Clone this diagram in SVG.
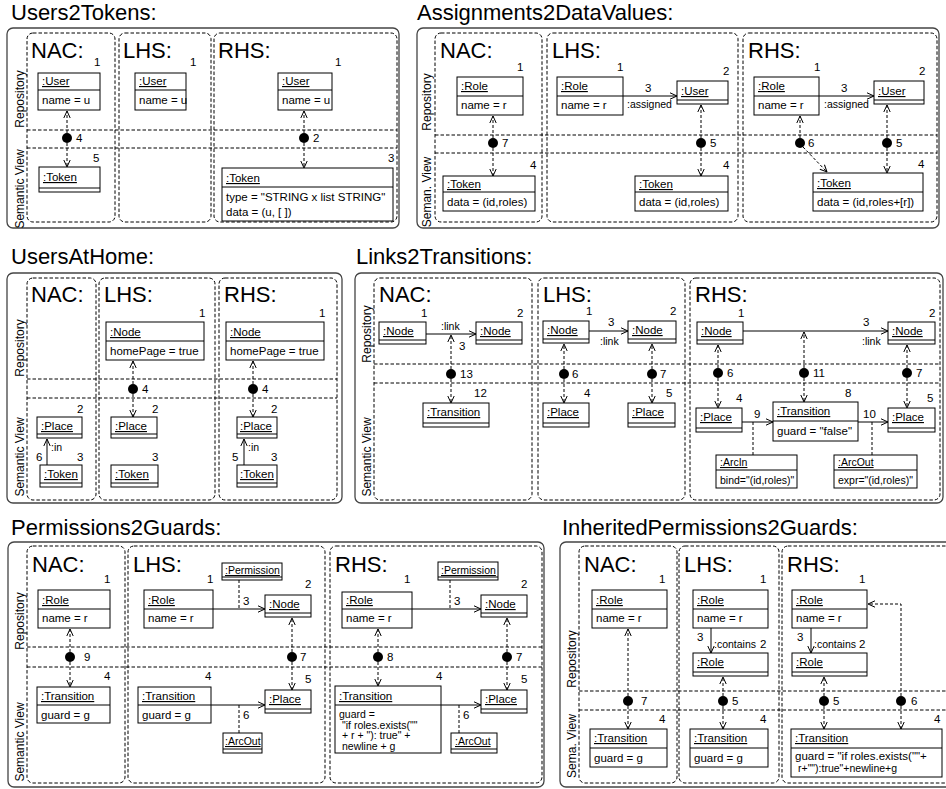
<svg xmlns="http://www.w3.org/2000/svg" width="946" height="789" viewBox="0 0 946 789">
<defs>
<style>
text{font-family:"Liberation Sans",Arial,Helvetica,sans-serif;font-size:11.5px;fill:#000}
.ttl{font-size:22px}
.sec{font-size:22px}
.side{font-size:12px;text-anchor:middle}
.u{text-decoration:underline}
.sm{font-size:10.5px}
.frame{fill:none;stroke:#444;stroke-width:1.3}
.sub{fill:none;stroke:#000;stroke-width:1;stroke-dasharray:3.5 2}
.hd{fill:none;stroke:#000;stroke-width:1;stroke-dasharray:3.5 2}
.box{fill:#fff;stroke:#000;stroke-width:1}
.ln{stroke:#000;stroke-width:1;fill:none}
.dc{stroke:#000;stroke-width:1;fill:none;stroke-dasharray:3 2;marker-end:url(#a)}
.dl{stroke:#000;stroke-width:1;fill:none;stroke-dasharray:3 2}
.sc{stroke:#000;stroke-width:1;fill:none;marker-end:url(#a)}
.dot{fill:#000}
</style>
<marker id="a" viewBox="0 0 8 8" refX="7.5" refY="4" markerWidth="8" markerHeight="8" markerUnits="userSpaceOnUse" orient="auto"><path d="M0.5,0.8 L7.5,4 L0.5,7.2" fill="none" stroke="#000" stroke-width="1" stroke-dasharray="none"/></marker>
</defs>
<rect width="946" height="789" fill="#fff"/>

<!-- ===== Panel 1: Users2Tokens ===== -->
<g id="users2tokens">
<text class="ttl" x="11" y="20">Users2Tokens:</text>
<rect class="frame" x="7" y="28" width="392" height="200" rx="6"/>
<rect class="sub" x="27" y="33" width="88" height="189" rx="6"/>
<rect class="sub" x="119" y="33" width="92" height="189" rx="6"/>
<rect class="sub" x="214" y="33" width="183" height="189" rx="6"/>
<path class="hd" d="M27,130H397M27,148H397"/>
<text class="side" transform="translate(24,99) rotate(-90)">Repository</text>
<text class="side" transform="translate(24,189) rotate(-90)">Semantic View</text>
<text class="sec" x="31" y="58">NAC:</text>
<text class="sec" x="123" y="58">LHS:</text>
<text class="sec" x="218" y="58">RHS:</text>
<g id="p1-nac-user"><rect class="box" x="38" y="73" width="62" height="37"/><line class="ln" x1="38" y1="90" x2="100" y2="90"/><text class="u" x="42" y="85">:User</text><text x="42" y="104">name = u</text><text x="94" y="66">1</text></g>
<g id="p1-nac-token"><rect class="box" x="39" y="167" width="61" height="25"/><line class="ln" x1="39" y1="188" x2="100" y2="188"/><text class="u" x="43" y="181">:Token</text><text x="93" y="162">5</text></g>
<g id="p1-lhs-user"><rect class="box" x="135" y="73" width="51" height="37"/><line class="ln" x1="135" y1="90" x2="186" y2="90"/><text class="u" x="139" y="85">:User</text><text x="139" y="104">name = u</text><text x="190" y="66">1</text></g>
<g id="p1-rhs-user"><rect class="box" x="278" y="73" width="54" height="37"/><line class="ln" x1="278" y1="90" x2="332" y2="90"/><text class="u" x="282" y="85">:User</text><text x="282" y="104">name = u</text><text x="335" y="66">1</text></g>
<g id="p1-rhs-token"><rect class="box" x="222" y="168" width="171" height="53"/><line class="ln" x1="222" y1="187" x2="393" y2="187"/><text class="u" x="226" y="182">:Token</text><text x="226" y="201">type = "STRING x list STRING"</text><text x="226" y="216">data = (u, [ ])</text><text x="388" y="162">3</text></g>
<g id="p1-corr4"><circle class="dot" cx="67" cy="138" r="5"/><text x="76" y="142">4</text></g>
<g id="p1-corr2"><circle class="dot" cx="304" cy="138" r="5"/><text x="313" y="142">2</text></g>
<g id="p1-edges">
<path class="dc" d="M67,133V111"/><path class="dc" d="M67,143V167"/>
<path class="dc" d="M304,133V111"/><path class="dc" d="M304,143V168"/>
</g>
</g>

<!-- ===== Panel 2: Assignments2DataValues ===== -->
<g id="assignments2datavalues">
<text class="ttl" x="417" y="20">Assignments2DataValues:</text>
<rect class="frame" x="417" y="28" width="522" height="200" rx="6"/>
<rect class="sub" x="435" y="33" width="107" height="189" rx="6"/>
<rect class="sub" x="547" y="33" width="191" height="189" rx="6"/>
<rect class="sub" x="743" y="33" width="194" height="189" rx="6"/>
<path class="hd" d="M435,135H937M435,153H937"/>
<text class="side" transform="translate(431,102) rotate(-90)">Repository</text>
<text class="side" transform="translate(431,192) rotate(-90)">Seman. View</text>
<text class="sec" x="440" y="58">NAC:</text>
<text class="sec" x="552" y="58">LHS:</text>
<text class="sec" x="748" y="58">RHS:</text>
<g id="p2-nac-role"><rect class="box" x="457" y="77" width="66" height="38"/><line class="ln" x1="457" y1="96" x2="523" y2="96"/><text class="u" x="461" y="90">:Role</text><text x="461" y="109">name = r</text><text x="517" y="71">1</text></g>
<g id="p2-nac-token"><rect class="box" x="443" y="176" width="92" height="35"/><line class="ln" x1="443" y1="192" x2="535" y2="192"/><text class="u" x="447" y="188">:Token</text><text x="447" y="206">data = (id,roles)</text><text x="530" y="169">4</text></g>
<g id="p2-lhs-role"><rect class="box" x="557" y="77" width="66" height="38"/><line class="ln" x1="557" y1="96" x2="623" y2="96"/><text class="u" x="561" y="90">:Role</text><text x="561" y="109">name = r</text><text x="617" y="71">1</text></g>
<g id="p2-lhs-user"><rect class="box" x="677" y="81" width="51" height="23"/><line class="ln" x1="677" y1="100" x2="728" y2="100"/><text class="u" x="681" y="95">:User</text><text x="723" y="75">2</text></g>
<g id="p2-lhs-token"><rect class="box" x="635" y="176" width="93" height="35"/><line class="ln" x1="635" y1="192" x2="728" y2="192"/><text class="u" x="639" y="188">:Token</text><text x="639" y="206">data = (id,roles)</text><text x="723" y="169">4</text></g>
<g id="p2-rhs-role"><rect class="box" x="754" y="77" width="65" height="38"/><line class="ln" x1="754" y1="96" x2="819" y2="96"/><text class="u" x="758" y="90">:Role</text><text x="758" y="109">name = r</text><text x="814" y="71">1</text></g>
<g id="p2-rhs-user"><rect class="box" x="874" y="81" width="50" height="23"/><line class="ln" x1="874" y1="100" x2="924" y2="100"/><text class="u" x="878" y="95">:User</text><text x="919" y="75">2</text></g>
<g id="p2-rhs-token"><rect class="box" x="813" y="173" width="110" height="38"/><line class="ln" x1="813" y1="192" x2="923" y2="192"/><text class="u" x="817" y="187">:Token</text><text x="817" y="206">data = (id,roles+[r])</text><text x="918" y="168">4</text></g>
<g id="p2-corr7"><circle class="dot" cx="493" cy="143" r="5"/><text x="502" y="147">7</text></g>
<g id="p2-corr5a"><circle class="dot" cx="701" cy="143" r="5"/><text x="710" y="147">5</text></g>
<g id="p2-corr6"><circle class="dot" cx="800" cy="143" r="5"/><text x="808" y="147">6</text></g>
<g id="p2-corr5b"><circle class="dot" cx="887" cy="143" r="5"/><text x="896" y="147">5</text></g>
<g id="p2-edges">
<path class="sc" d="M623,96H677"/><text x="645" y="92">3</text><text class="sm" x="627" y="108">:assigned</text>
<path class="sc" d="M819,96H874"/><text x="841" y="92">3</text><text class="sm" x="824" y="108">:assigned</text>
<path class="dc" d="M493,138V116"/><path class="dc" d="M493,148V176"/>
<path class="dc" d="M701,138V105"/><path class="dc" d="M701,148V176"/>
<path class="dc" d="M800,138V116"/><path class="dc" d="M803,147L827,172"/>
<path class="dc" d="M887,138V105"/><path class="dc" d="M887,148V173"/>
</g>
</g>

<!-- ===== Panel 3: UsersAtHome ===== -->
<g id="usersathome">
<text class="ttl" x="11" y="264">UsersAtHome:</text>
<rect class="frame" x="7" y="273" width="335" height="230" rx="6"/>
<rect class="sub" x="27" y="278" width="69" height="222" rx="6"/>
<rect class="sub" x="99" y="278" width="116" height="222" rx="6"/>
<rect class="sub" x="219" y="278" width="118" height="222" rx="6"/>
<path class="hd" d="M27,379H337M27,398H337"/>
<text class="side" transform="translate(24,348) rotate(-90)">Repository</text>
<text class="side" transform="translate(24,457) rotate(-90)">Semantic View</text>
<text class="sec" x="31" y="302">NAC:</text>
<text class="sec" x="104" y="302">LHS:</text>
<text class="sec" x="224" y="302">RHS:</text>
<g id="p3-lhs-node"><rect class="box" x="106" y="322" width="98" height="38"/><line class="ln" x1="106" y1="341" x2="204" y2="341"/><text class="u" x="110" y="336">:Node</text><text x="110" y="355">homePage = true</text><text x="199" y="317">1</text></g>
<g id="p3-rhs-node"><rect class="box" x="226" y="322" width="98" height="38"/><line class="ln" x1="226" y1="341" x2="324" y2="341"/><text class="u" x="230" y="336">:Node</text><text x="230" y="355">homePage = true</text><text x="319" y="317">1</text></g>
<g id="p3-nac-place"><rect class="box" x="37" y="417" width="45" height="21"/><line class="ln" x1="37" y1="434" x2="82" y2="434"/><text class="u" x="41" y="430">:Place</text><text x="77" y="413">2</text></g>
<g id="p3-nac-token"><rect class="box" x="40" y="465" width="42" height="22"/><line class="ln" x1="40" y1="483" x2="82" y2="483"/><text class="u" x="44" y="478">:Token</text><text x="77" y="461">3</text></g>
<g id="p3-lhs-place"><rect class="box" x="111" y="417" width="46" height="21"/><line class="ln" x1="111" y1="434" x2="157" y2="434"/><text class="u" x="115" y="430">:Place</text><text x="152" y="413">2</text></g>
<g id="p3-lhs-token"><rect class="box" x="111" y="465" width="47" height="22"/><line class="ln" x1="111" y1="483" x2="158" y2="483"/><text class="u" x="115" y="478">:Token</text><text x="152" y="461">3</text></g>
<g id="p3-rhs-place"><rect class="box" x="237" y="417" width="40" height="21"/><line class="ln" x1="237" y1="434" x2="277" y2="434"/><text class="u" x="240" y="430">:Place</text><text x="271" y="413">2</text></g>
<g id="p3-rhs-token"><rect class="box" x="237" y="465" width="40" height="22"/><line class="ln" x1="237" y1="483" x2="277" y2="483"/><text class="u" x="240" y="478">:Token</text><text x="271" y="461">3</text></g>
<g id="p3-corr4a"><circle class="dot" cx="133" cy="389" r="5"/><text x="142" y="393">4</text></g>
<g id="p3-corr4b"><circle class="dot" cx="253" cy="389" r="5"/><text x="262" y="393">4</text></g>
<g id="p3-edges">
<path class="dc" d="M133,384V361"/><path class="dc" d="M133,394V417"/>
<path class="dc" d="M253,384V361"/><path class="dc" d="M253,394V417"/>
<path class="sc" d="M47,465V439"/><text class="sm" x="51" y="451">:in</text><text x="36" y="461">6</text>
<path class="sc" d="M244,465V439"/><text class="sm" x="248" y="451">:in</text><text x="232" y="461">5</text>
</g>
</g>

<!-- ===== Panel 4: Links2Transitions ===== -->
<g id="links2transitions">
<text class="ttl" x="356" y="264">Links2Transitions:</text>
<rect class="frame" x="355" y="273" width="588" height="230" rx="6"/>
<rect class="sub" x="374" y="278" width="158" height="222" rx="6"/>
<rect class="sub" x="538" y="278" width="147" height="222" rx="6"/>
<rect class="sub" x="690" y="278" width="250" height="222" rx="6"/>
<path class="hd" d="M374,364H940M374,383H940"/>
<text class="side" transform="translate(371,334) rotate(-90)">Repository</text>
<text class="side" transform="translate(371,457) rotate(-90)">Semantic View</text>
<text class="sec" x="379" y="302">NAC:</text>
<text class="sec" x="543" y="302">LHS:</text>
<text class="sec" x="695" y="302">RHS:</text>
<g id="p4-nac-node1"><rect class="box" x="379" y="322" width="47" height="22"/><line class="ln" x1="379" y1="340" x2="426" y2="340"/><text class="u" x="383" y="335">:Node</text><text x="421" y="317">1</text></g>
<g id="p4-nac-node2"><rect class="box" x="476" y="322" width="46" height="22"/><line class="ln" x1="476" y1="340" x2="522" y2="340"/><text class="u" x="480" y="335">:Node</text><text x="517" y="317">2</text></g>
<g id="p4-nac-trans"><rect class="box" x="423" y="403" width="66" height="24"/><line class="ln" x1="423" y1="423" x2="489" y2="423"/><text class="u" x="427" y="416">:Transition</text><text x="474" y="397">12</text></g>
<g id="p4-lhs-node1"><rect class="box" x="543" y="321" width="46" height="22"/><line class="ln" x1="543" y1="339" x2="589" y2="339"/><text class="u" x="547" y="334">:Node</text><text x="586" y="315">1</text></g>
<g id="p4-lhs-node2"><rect class="box" x="628" y="321" width="48" height="22"/><line class="ln" x1="628" y1="339" x2="676" y2="339"/><text class="u" x="632" y="334">:Node</text><text x="670" y="315">2</text></g>
<g id="p4-lhs-place4"><rect class="box" x="543" y="403" width="46" height="24"/><line class="ln" x1="543" y1="423" x2="589" y2="423"/><text class="u" x="547" y="416">:Place</text><text x="584" y="397">4</text></g>
<g id="p4-lhs-place5"><rect class="box" x="628" y="403" width="47" height="24"/><line class="ln" x1="628" y1="423" x2="675" y2="423"/><text class="u" x="632" y="416">:Place</text><text x="666" y="397">5</text></g>
<g id="p4-rhs-node1"><rect class="box" x="697" y="322" width="46" height="22"/><line class="ln" x1="697" y1="340" x2="743" y2="340"/><text class="u" x="701" y="335">:Node</text><text x="738" y="317">1</text></g>
<g id="p4-rhs-node2"><rect class="box" x="888" y="322" width="47" height="22"/><line class="ln" x1="888" y1="340" x2="935" y2="340"/><text class="u" x="892" y="335">:Node</text><text x="929" y="317">2</text></g>
<g id="p4-rhs-place4"><rect class="box" x="696" y="408" width="46" height="24"/><line class="ln" x1="696" y1="428" x2="742" y2="428"/><text class="u" x="700" y="421">:Place</text><text x="736" y="402">4</text></g>
<g id="p4-rhs-trans"><rect class="box" x="773" y="402" width="85" height="39"/><line class="ln" x1="773" y1="421" x2="858" y2="421"/><text class="u" x="777" y="415">:Transition</text><text x="777" y="435">guard = "false"</text><text x="845" y="397">8</text></g>
<g id="p4-rhs-place5"><rect class="box" x="888" y="408" width="47" height="24"/><line class="ln" x1="888" y1="428" x2="935" y2="428"/><text class="u" x="892" y="421">:Place</text><text x="927" y="402">5</text></g>
<g id="p4-arcin"><rect class="box" x="716" y="455" width="81" height="33"/><line class="ln" x1="716" y1="470" x2="797" y2="470"/><text class="u sm" x="720" y="466">:ArcIn</text><text class="sm" x="720" y="484">bind="(id,roles)"</text></g>
<g id="p4-arcout"><rect class="box" x="834" y="455" width="83" height="33"/><line class="ln" x1="834" y1="470" x2="917" y2="470"/><text class="u sm" x="838" y="466">:ArcOut</text><text class="sm" x="838" y="484">expr="(id,roles)"</text></g>
<g id="p4-corr13"><circle class="dot" cx="451" cy="374" r="5"/><text x="460" y="378">13</text></g>
<g id="p4-corr6a"><circle class="dot" cx="564" cy="374" r="5"/><text x="572" y="378">6</text></g>
<g id="p4-corr7a"><circle class="dot" cx="652" cy="374" r="5"/><text x="660" y="378">7</text></g>
<g id="p4-corr6b"><circle class="dot" cx="718" cy="373" r="5"/><text x="727" y="377">6</text></g>
<g id="p4-corr11"><circle class="dot" cx="804" cy="373" r="5"/><text x="813" y="377">11</text></g>
<g id="p4-corr7b"><circle class="dot" cx="907" cy="373" r="5"/><text x="916" y="377">7</text></g>
<g id="p4-edges">
<path class="sc" d="M426,334H476"/><text class="sm" x="441" y="330">:link</text><text x="459" y="350">3</text>
<path class="sc" d="M589,331H628"/><text x="608" y="326">3</text><text class="sm" x="600" y="345">:link</text>
<path class="sc" d="M743,331H888"/><text x="863" y="326">3</text><text class="sm" x="862" y="345">:link</text>
<path class="sc" d="M742,422H773"/><text x="754" y="418">9</text>
<path class="sc" d="M858,422H888"/><text x="863" y="418">10</text>
<path class="dl" d="M753,422V455"/><path class="dl" d="M872,422V455"/>
<path class="dc" d="M451,369V335"/><path class="dc" d="M451,379V403"/>
<path class="dc" d="M564,369V344"/><path class="dc" d="M564,379V403"/>
<path class="dc" d="M652,369V344"/><path class="dc" d="M652,379V403"/>
<path class="dc" d="M718,368V345"/><path class="dc" d="M718,378V408"/>
<path class="dc" d="M804,368V332"/><path class="dc" d="M804,378V402"/>
<path class="dc" d="M907,368V345"/><path class="dc" d="M907,378V408"/>
</g>
</g>

<!-- ===== Panel 5: Permissions2Guards ===== -->
<g id="permissions2guards">
<text class="ttl" x="11" y="535">Permissions2Guards:</text>
<rect class="frame" x="8" y="542" width="536" height="245" rx="6"/>
<rect class="sub" x="27" y="546" width="98" height="237" rx="6"/>
<rect class="sub" x="128" y="546" width="197" height="237" rx="6"/>
<rect class="sub" x="330" y="546" width="212" height="237" rx="6"/>
<path class="hd" d="M27,647H542M27,667H542"/>
<text class="side" transform="translate(24,621) rotate(-90)">Repository</text>
<text class="side" transform="translate(24,742) rotate(-90)">Semantic View</text>
<text class="sec" x="32" y="572">NAC:</text>
<text class="sec" x="133" y="572">LHS:</text>
<text class="sec" x="335" y="572">RHS:</text>
<g id="p5-nac-role"><rect class="box" x="38" y="590" width="72" height="38"/><line class="ln" x1="38" y1="609" x2="110" y2="609"/><text class="u" x="42" y="604">:Role</text><text x="42" y="622">name = r</text><text x="104" y="583">1</text></g>
<g id="p5-nac-trans"><rect class="box" x="37" y="687" width="73" height="36"/><line class="ln" x1="37" y1="705" x2="110" y2="705"/><text class="u" x="41" y="700">:Transition</text><text x="41" y="719">guard = g</text><text x="104" y="680">4</text></g>
<g id="p5-lhs-role"><rect class="box" x="144" y="590" width="69" height="38"/><line class="ln" x1="144" y1="609" x2="213" y2="609"/><text class="u" x="148" y="604">:Role</text><text x="148" y="622">name = r</text><text x="207" y="583">1</text></g>
<g id="p5-lhs-perm"><rect class="box" x="222" y="563" width="60" height="17"/><line class="ln" x1="222" y1="577" x2="282" y2="577"/><text class="u sm" x="225" y="574">:Permission</text></g>
<g id="p5-lhs-node"><rect class="box" x="265" y="595" width="46" height="22"/><line class="ln" x1="265" y1="613" x2="311" y2="613"/><text class="u" x="269" y="608">:Node</text><text x="305" y="588">2</text></g>
<g id="p5-lhs-trans"><rect class="box" x="138" y="687" width="73" height="36"/><line class="ln" x1="138" y1="705" x2="211" y2="705"/><text class="u" x="142" y="700">:Transition</text><text x="142" y="719">guard = g</text><text x="205" y="680">4</text></g>
<g id="p5-lhs-place"><rect class="box" x="265" y="690" width="46" height="23"/><line class="ln" x1="265" y1="709" x2="311" y2="709"/><text class="u" x="269" y="703">:Place</text><text x="305" y="683">5</text></g>
<g id="p5-lhs-arcout"><rect class="box" x="223" y="733" width="39" height="20"/><line class="ln" x1="223" y1="749" x2="262" y2="749"/><text class="u sm" x="225" y="745">:ArcOut</text></g>
<g id="p5-rhs-perm"><rect class="box" x="438" y="562" width="60" height="18"/><line class="ln" x1="438" y1="577" x2="498" y2="577"/><text class="u sm" x="441" y="574">:Permission</text></g>
<g id="p5-rhs-role"><rect class="box" x="342" y="592" width="70" height="36"/><line class="ln" x1="342" y1="609" x2="412" y2="609"/><text class="u" x="346" y="604">:Role</text><text x="346" y="622">name = r</text><text x="404" y="583">1</text></g>
<g id="p5-rhs-node"><rect class="box" x="481" y="595" width="46" height="22"/><line class="ln" x1="481" y1="613" x2="527" y2="613"/><text class="u" x="485" y="608">:Node</text><text x="521" y="588">2</text></g>
<g id="p5-rhs-trans"><rect class="box" x="335" y="686" width="106" height="67"/><line class="ln" x1="335" y1="705" x2="441" y2="705"/><text class="u" x="339" y="700">:Transition</text><text class="sm" x="339" y="718">guard =</text><text class="sm" x="342" y="728.5">"if roles.exists(""</text><text class="sm" x="342" y="739">+ r + "): true" +</text><text class="sm" x="342" y="749.5">newline + g</text><text x="436" y="680">4</text></g>
<g id="p5-rhs-place"><rect class="box" x="481" y="690" width="46" height="23"/><line class="ln" x1="481" y1="709" x2="527" y2="709"/><text class="u" x="485" y="703">:Place</text><text x="521" y="683">5</text></g>
<g id="p5-rhs-arcout"><rect class="box" x="451" y="733" width="46" height="20"/><line class="ln" x1="451" y1="749" x2="497" y2="749"/><text class="u sm" x="455" y="745">:ArcOut</text></g>
<g id="p5-corr9"><circle class="dot" cx="70" cy="657" r="5"/><text x="84" y="661">9</text></g>
<g id="p5-corr7a"><circle class="dot" cx="292" cy="657" r="5"/><text x="300" y="661">7</text></g>
<g id="p5-corr8"><circle class="dot" cx="378" cy="657" r="5"/><text x="387" y="661">8</text></g>
<g id="p5-corr7b"><circle class="dot" cx="507" cy="657" r="5"/><text x="516" y="661">7</text></g>
<g id="p5-edges">
<path class="sc" d="M213,609H265"/><text x="243" y="605">3</text><path class="dl" d="M239,580V609"/>
<path class="sc" d="M211,705H265"/><text x="243" y="719">6</text><path class="dl" d="M239,705V733"/>
<path class="sc" d="M412,609H481"/><text x="454" y="605">3</text><path class="dl" d="M450,580V609"/>
<path class="sc" d="M441,705H481"/><text x="463" y="719">6</text><path class="dl" d="M459,705V733"/>
<path class="dc" d="M70,652V629"/><path class="dc" d="M70,662V687"/>
<path class="dc" d="M292,652V618"/><path class="dc" d="M292,662V690"/>
<path class="dc" d="M378,652V629"/><path class="dc" d="M378,662V686"/>
<path class="dc" d="M507,652V618"/><path class="dc" d="M507,662V690"/>
</g>
</g>

<!-- ===== Panel 6: InheritedPermissions2Guards ===== -->
<g id="inheritedpermissions2guards">
<text class="ttl" x="562" y="535">InheritedPermissions2Guards:</text>
<rect class="frame" x="560" y="542" width="400" height="245" rx="6"/>
<rect class="sub" x="579" y="546" width="98" height="237" rx="6"/>
<rect class="sub" x="679" y="546" width="100" height="237" rx="6"/>
<rect class="sub" x="782" y="546" width="175" height="237" rx="6"/>
<path class="hd" d="M579,691H946M579,710H946"/>
<text class="side" transform="translate(576,659) rotate(-90)">Repository</text>
<text class="side" transform="translate(576,746) rotate(-90)">Sema. View</text>
<text class="sec" x="584" y="572">NAC:</text>
<text class="sec" x="684" y="572">LHS:</text>
<text class="sec" x="787" y="572">RHS:</text>
<g id="p6-nac-role"><rect class="box" x="592" y="590" width="75" height="38"/><line class="ln" x1="592" y1="609" x2="667" y2="609"/><text class="u" x="596" y="604">:Role</text><text x="596" y="622">name = r</text><text x="659" y="583">1</text></g>
<g id="p6-nac-trans"><rect class="box" x="590" y="729" width="77" height="38"/><line class="ln" x1="590" y1="748" x2="667" y2="748"/><text class="u" x="594" y="742">:Transition</text><text x="594" y="762">guard = g</text><text x="659" y="723">4</text></g>
<g id="p6-lhs-role1"><rect class="box" x="693" y="590" width="75" height="38"/><line class="ln" x1="693" y1="609" x2="768" y2="609"/><text class="u" x="697" y="604">:Role</text><text x="697" y="622">name = r</text><text x="760" y="583">1</text></g>
<g id="p6-lhs-role2"><rect class="box" x="693" y="653" width="75" height="23"/><line class="ln" x1="693" y1="672" x2="768" y2="672"/><text class="u" x="697" y="666">:Role</text><text x="760" y="648">2</text></g>
<g id="p6-lhs-trans"><rect class="box" x="690" y="729" width="78" height="38"/><line class="ln" x1="690" y1="748" x2="768" y2="748"/><text class="u" x="694" y="742">:Transition</text><text x="694" y="762">guard = g</text><text x="760" y="723">4</text></g>
<g id="p6-rhs-role1"><rect class="box" x="792" y="590" width="75" height="38"/><line class="ln" x1="792" y1="609" x2="867" y2="609"/><text class="u" x="796" y="604">:Role</text><text x="796" y="622">name = r</text><text x="859" y="583">1</text></g>
<g id="p6-rhs-role2"><rect class="box" x="792" y="653" width="75" height="23"/><line class="ln" x1="792" y1="672" x2="867" y2="672"/><text class="u" x="796" y="666">:Role</text><text x="859" y="648">2</text></g>
<g id="p6-rhs-trans"><rect class="box" x="791" y="729" width="151" height="48"/><line class="ln" x1="791" y1="748" x2="942" y2="748"/><text class="u" x="795" y="742">:Transition</text><text x="795" y="760">guard = "if roles.exists(""+</text><text class="sm" x="798" y="771.5">r+""):true"+newline+g</text><text x="934" y="723">4</text></g>
<g id="p6-corr7"><circle class="dot" cx="628" cy="701" r="5"/><text x="641" y="705">7</text></g>
<g id="p6-corr5a"><circle class="dot" cx="723" cy="701" r="5"/><text x="732" y="705">5</text></g>
<g id="p6-corr5b"><circle class="dot" cx="824" cy="701" r="5"/><text x="833" y="705">5</text></g>
<g id="p6-corr6"><circle class="dot" cx="901" cy="701" r="5"/><text x="911" y="705">6</text></g>
<g id="p6-edges">
<path class="sc" d="M711,628V653"/><text x="697" y="641">3</text><text class="sm" x="714" y="648">:contains</text>
<path class="sc" d="M811,628V653"/><text x="797" y="641">3</text><text class="sm" x="814" y="648">:contains</text>
<path class="dc" d="M628,696V629"/><path class="dc" d="M628,706V729"/>
<path class="dc" d="M723,696V677"/><path class="dc" d="M723,706V729"/>
<path class="dc" d="M824,696V677"/><path class="dc" d="M824,706V729"/>
<path class="dc" d="M901,696V604H868"/><path class="dc" d="M901,706V729"/>
</g>
</g>
</svg>
